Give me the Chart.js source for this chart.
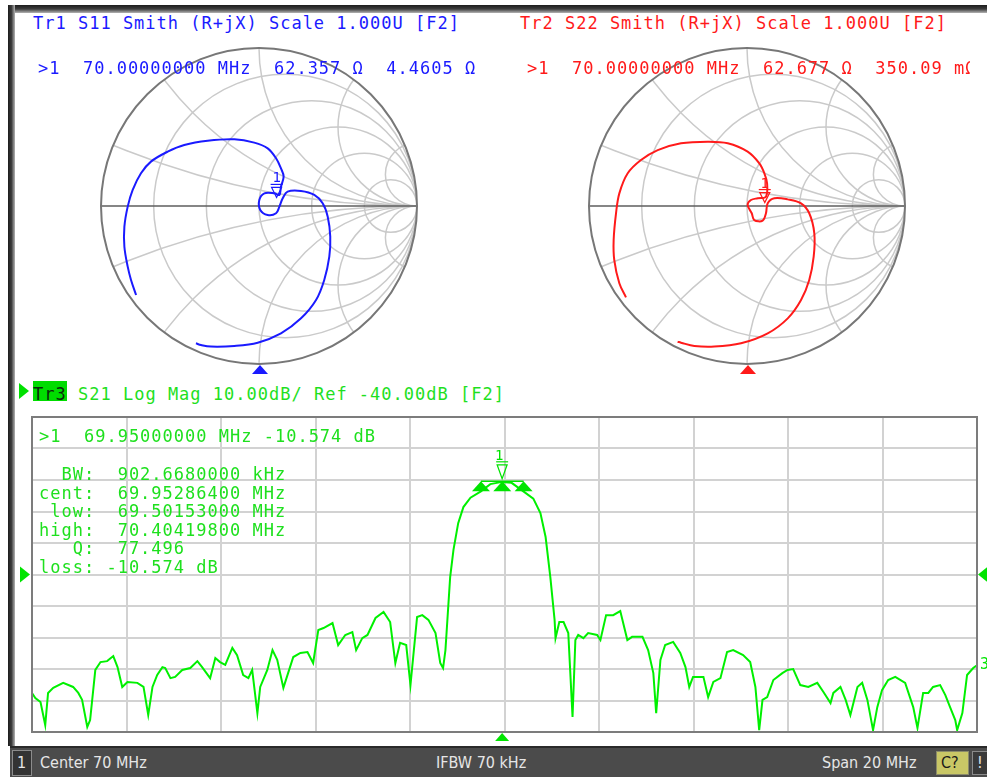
<!DOCTYPE html>
<html>
<head>
<meta charset="utf-8">
<script src="https://cdn.jsdelivr.net/npm/chart.js@4.4.1/dist/chart.umd.min.js"></script>
<style>
  body { margin: 0; width: 987px; height: 777px; background: #fff; position: relative; overflow: hidden; }
  canvas { position: absolute; }
  .t { position: absolute; font: 17px "DejaVu Sans Mono", monospace; letter-spacing: 1px; line-height: 17px; white-space: pre; z-index: 5; }
  .blue { color: #1a1aff; }
  .red { color: #ff1a1a; }
  .green { color: #1ee01e; }
  .bar { position: absolute; z-index: 6; }
  .st { position: absolute; font: 16px "DejaVu Sans Condensed", "DejaVu Sans", sans-serif; line-height: 16px; color: #e6e6e6; white-space: pre; z-index: 7; }
</style>
</head>
<body>
<div class="bar" style="left:8px;top:5px;width:979px;height:8px;background:linear-gradient(#1c1c1c,#3c3c3c 50%,#b4b4b4)"></div>
<div class="bar" style="left:8px;top:5px;width:7px;height:741px;background:linear-gradient(to right,#1c1c1c,#3c3c3c 50%,#b4b4b4)"></div>

<canvas id="smith1" width="344" height="344" style="left:87px;top:34px"></canvas>
<canvas id="smith2" width="344" height="344" style="left:575px;top:34px"></canvas>
<canvas id="s21" width="973" height="342" style="left:14px;top:404px"></canvas>

<div class="t blue" style="left:33px;top:15px">Tr1 S11 Smith (R+jX) Scale 1.000U [F2]</div>
<div class="t blue" style="left:38px;top:60px">&gt;1  70.00000000 MHz  62.357 Ω  4.4605 Ω</div>
<div class="t red" style="left:520px;top:15px">Tr2 S22 Smith (R+jX) Scale 1.000U [F2]</div>
<div class="t red" style="left:527px;top:60px;width:443px;overflow:hidden">&gt;1  70.00000000 MHz  62.677 Ω  350.09 mΩ</div>

<div style="position:absolute;left:19px;top:383px;width:0;height:0;border-top:8px solid transparent;border-bottom:8px solid transparent;border-left:10px solid #00e000;z-index:5"></div>
<div style="position:absolute;left:33px;top:381px;width:34px;height:20px;background:#00dc00;z-index:4"></div>
<div class="t" style="left:33px;top:386px;color:#0b2a0b">Tr3</div>
<div class="t green" style="left:78px;top:386px">S21 Log Mag 10.00dB/ Ref -40.00dB [F2]</div>

<div class="t green" style="left:39px;top:428px">&gt;1  69.95000000 MHz -10.574 dB</div>
<div class="t green" style="left:39px;top:465px;line-height:18.5px">  BW:  902.6680000 kHz
cent:  69.95286400 MHz
 low:  69.50153000 MHz
high:  70.40419800 MHz
   Q:  77.496
loss: -10.574 dB</div>

<div class="bar" style="left:10px;top:746px;width:977px;height:31px;background:#4b4b4b;border-top:2px solid #2a2a2a;box-sizing:border-box"></div>
<div class="bar" style="left:12px;top:750px;width:18px;height:24px;background:#333;border:1px solid #8c8c8c;z-index:7"></div>
<div class="st" style="left:17px;top:755px">1</div>
<div class="st" style="left:40px;top:755px">Center 70 MHz</div>
<div class="st" style="left:436px;top:755px">IFBW 70 kHz</div>
<div class="st" style="left:822px;top:755px">Span 20 MHz</div>
<div class="bar" style="left:936px;top:751px;width:31px;height:22px;background:#c9c766;border:1px solid #8a8a6a;z-index:7"></div>
<div class="st" style="left:941px;top:755px;color:#1a1a1a">C?</div>
<div class="bar" style="left:972px;top:751px;width:15px;height:22px;background:#3a3a3a;border:1px solid #8a8a8a;z-index:7"></div>
<div class="st" style="left:977px;top:755px">!</div>

<script>
// S21 log magnitude trace, frequency in MHz and level in dB
const s21Freq = [
  60.00, 60.07, 60.18, 60.28, 60.34, 60.45, 60.66, 60.87, 60.98, 61.06,
  61.17, 61.23, 61.34, 61.45, 61.59, 61.72, 61.81, 61.91, 62.02, 62.23,
  62.36, 62.46, 62.55, 62.65, 62.76, 62.82, 62.93, 63.03, 63.18, 63.35,
  63.50, 63.60, 63.77, 63.88, 63.98, 64.09, 64.24, 64.34, 64.47, 64.58,
  64.66, 64.77, 64.83, 64.98, 65.09, 65.19, 65.32, 65.42, 65.53, 65.68,
  65.83, 65.95, 66.06, 66.17, 66.36, 66.48, 66.63, 66.78, 66.86, 66.99,
  67.10, 67.27, 67.44, 67.58, 67.69, 67.79, 67.92, 68.01, 68.15, 68.26,
  68.39, 68.54, 68.64, 68.70, 68.75, 68.85, 68.92, 69.02, 69.13, 69.28,
  69.50, 69.70, 69.95, 70.15, 70.40, 70.61, 70.76, 70.87, 70.97, 71.06,
  71.08, 71.16, 71.25, 71.35, 71.44, 71.50, 71.56, 71.67, 71.77, 71.96,
  72.03, 72.15, 72.30, 72.45, 72.60, 72.70, 72.92, 73.04, 73.15, 73.21,
  73.30, 73.40, 73.57, 73.72, 73.83, 73.91, 73.99, 74.21, 74.31, 74.42,
  74.57, 74.71, 74.84, 75.05, 75.20, 75.31, 75.39, 75.46, 75.56, 75.69,
  75.88, 75.99, 76.11, 76.26, 76.43, 76.62, 76.75, 76.90, 76.96, 77.11,
  77.22, 77.32, 77.47, 77.57, 77.68, 77.80, 77.89, 77.99, 78.12, 78.27,
  78.48, 78.65, 78.74, 78.86, 78.97, 79.07, 79.22, 79.33, 79.43, 79.54,
  79.58, 79.69, 79.79, 79.92, 80.00
];
const s21Db = [
  -77.6, -79.2, -80.5, -87.8, -77.6, -76.0, -74.4, -75.7, -77.6, -79.8,
  -88.4, -86.2, -70.3, -67.8, -67.5, -65.9, -69.4, -75.7, -74.1, -74.4,
  -75.7, -84.6, -75.7, -71.9, -69.4, -69.7, -72.9, -72.5, -70.3, -69.7,
  -67.5, -69.4, -72.9, -66.5, -67.8, -68.7, -63.3, -65.6, -71.9, -72.9,
  -70.3, -84.0, -75.7, -70.3, -64.0, -67.1, -76.0, -71.3, -66.2, -64.9,
  -64.6, -68.1, -57.6, -57.0, -55.4, -62.4, -59.2, -58.3, -64.0, -60.2,
  -59.2, -53.8, -51.9, -55.1, -68.1, -61.7, -62.4, -75.1, -53.5, -52.9,
  -54.4, -58.6, -68.1, -69.7, -64.0, -40.8, -32.2, -23.7, -18.6, -15.6,
  -13.6, -11.3, -10.6, -10.9, -13.6, -15.9, -20.5, -28.1, -40.8, -54.4,
  -60.2, -55.1, -55.1, -58.6, -85.2, -60.8, -59.2, -60.2, -58.6, -59.2,
  -60.8, -52.9, -52.9, -51.6, -60.8, -59.8, -59.8, -64.0, -71.3, -84.0,
  -67.1, -62.4, -61.4, -64.9, -69.4, -75.7, -72.5, -72.5, -78.9, -74.1,
  -72.9, -64.6, -64.0, -65.6, -67.8, -75.7, -89.4, -79.8, -78.9, -73.5,
  -71.3, -70.3, -70.0, -75.1, -75.7, -74.4, -77.3, -80.8, -77.6, -75.7,
  -79.8, -84.6, -75.7, -74.4, -79.8, -89.4, -82.1, -76.7, -73.5, -72.5,
  -74.4, -82.1, -88.7, -77.6, -77.6, -75.7, -75.1, -78.3, -82.1, -86.2,
  -89.4, -84.0, -71.9, -69.7, -68.8
];

// S11 and S22 reflection coefficient (real, imaginary)
const s11Re = [
  -0.778, -0.810, -0.831, -0.852, -0.852, -0.831, -0.800, -0.747, -0.684, -0.578,
  -0.473, -0.325, -0.156, -0.030, 0.055, 0.108, 0.139, 0.156, 0.139, 0.129,
  0.097, 0.034, 0.002, 0.008, 0.055, 0.108, 0.129, 0.150, 0.181, 0.266,
  0.350, 0.403, 0.435, 0.451, 0.445, 0.413, 0.361, 0.266, 0.139, -0.008,
  -0.156, -0.304, -0.367, -0.399
];
const s11Im = [
  -0.563, -0.468, -0.384, -0.258, -0.131, -0.004, 0.101, 0.207, 0.281, 0.344,
  0.386, 0.413, 0.422, 0.401, 0.365, 0.302, 0.238, 0.186, 0.122, 0.070,
  0.080, 0.080, 0.038, -0.025, -0.057, -0.046, -0.004, 0.049, 0.091, 0.095,
  0.070, 0.017, -0.068, -0.194, -0.321, -0.468, -0.595, -0.711, -0.806, -0.865,
  -0.886, -0.890, -0.880, -0.869
];
const s22Re = [
  -0.766, -0.808, -0.840, -0.844, -0.829, -0.808, -0.755, -0.671, -0.565, -0.418,
  -0.249, -0.122, 0.004, 0.078, 0.110, 0.127, 0.120, 0.068, 0.025, 0.004,
  0.030, 0.046, 0.099, 0.120, 0.131, 0.173, 0.258, 0.342, 0.394, 0.426,
  0.422, 0.394, 0.342, 0.258, 0.131, -0.038, -0.207, -0.333, -0.418, -0.439
];
const s22Im = [
  -0.578, -0.489, -0.342, -0.215, -0.046, 0.080, 0.207, 0.291, 0.354, 0.397,
  0.407, 0.397, 0.344, 0.270, 0.207, 0.144, 0.059, 0.049, 0.038, 0.006,
  -0.046, -0.089, -0.093, -0.046, 0.017, 0.049, 0.042, 0.017, -0.046, -0.173,
  -0.321, -0.468, -0.595, -0.711, -0.806, -0.869, -0.890, -0.886, -0.865, -0.859
];

// marker readouts (ohms, MHz, dB)
const s11Marker = [62.357, 4.4605];
const s22Marker = [62.677, 0.35009];
const s21MarkerFreq = 69.95;
const s21MarkerDb = -10.574;
const bwFreqs = [69.50153, 69.952864, 70.404198];

const rCircles = [0.2, 0.5, 1, 2, 5];
const xArcs = [0.2, 0.5, 1, 2, 5];

function gammaOf(r, x) {
  const a = r / 50, b = x / 50;
  const den = (a + 1) * (a + 1) + b * b;
  return { re: (a * a + b * b - 1) / den, im: 2 * b / den };
}

function toPoints(xs, ys) {
  return xs.map((v, i) => ({ x: v, y: ys[i] }));
}

function smithGrid(color, marker) {
  return {
    id: 'smithGrid',
    beforeDatasetsDraw(chart) {
      const { ctx, scales: { x, y } } = chart;
      const cx = x.getPixelForValue(0), cy = y.getPixelForValue(0);
      const R = x.getPixelForValue(1) - cx;
      ctx.save();
      ctx.beginPath();
      ctx.arc(cx, cy, R, 0, Math.PI * 2);
      ctx.clip();
      ctx.strokeStyle = '#cacaca';
      ctx.lineWidth = 1.5;
      rCircles.forEach(r => {
        ctx.beginPath();
        ctx.arc(cx + R * r / (1 + r), cy, R / (1 + r), 0, Math.PI * 2);
        ctx.stroke();
      });
      xArcs.forEach(v => {
        [v, -v].forEach(xv => {
          ctx.beginPath();
          ctx.arc(cx + R, cy - R / xv, R / v, 0, Math.PI * 2);
          ctx.stroke();
        });
      });
      ctx.restore();

      ctx.save();
      ctx.strokeStyle = '#5e5e5e';
      ctx.lineWidth = 1.5;
      ctx.beginPath();
      ctx.moveTo(cx - R, cy);
      ctx.lineTo(cx + R, cy);
      ctx.stroke();
      ctx.strokeStyle = '#777';
      ctx.lineWidth = 2;
      ctx.beginPath();
      ctx.arc(cx, cy, R, 0, Math.PI * 2);
      ctx.stroke();
      ctx.restore();
    },
    afterDatasetsDraw(chart) {
      const { ctx, scales: { x, y } } = chart;
      const cx = x.getPixelForValue(0), cy = y.getPixelForValue(0);
      const R = x.getPixelForValue(1) - cx;
      const g = gammaOf(marker[0], marker[1]);
      const px = x.getPixelForValue(g.re), py = y.getPixelForValue(g.im);
      ctx.save();
      ctx.strokeStyle = color;
      ctx.fillStyle = color;
      ctx.lineWidth = 1.2;
      ctx.beginPath();
      ctx.moveTo(px, py - 3);
      ctx.lineTo(px - 5, py - 13);
      ctx.lineTo(px + 5, py - 13);
      ctx.closePath();
      ctx.stroke();
      ctx.beginPath();
      ctx.moveTo(px - 6, py - 16);
      ctx.lineTo(px + 6, py - 16);
      ctx.stroke();
      ctx.font = '14px "DejaVu Sans Mono"';
      ctx.textAlign = 'center';
      ctx.fillText('1', px, py - 18);
      // stimulus marker below the chart
      ctx.beginPath();
      ctx.moveTo(cx + 1, cy + R + 1);
      ctx.lineTo(cx - 7, cy + R + 10);
      ctx.lineTo(cx + 9, cy + R + 10);
      ctx.closePath();
      ctx.fill();
      ctx.restore();
    }
  };
}

function smithChart(id, re, im, color, marker) {
  return new Chart(document.getElementById(id), {
    type: 'scatter',
    data: {
      datasets: [{
        data: toPoints(re, im),
        showLine: true,
        borderColor: color,
        borderWidth: 2,
        pointRadius: 0,
        tension: 0.35
      }]
    },
    options: {
      responsive: false,
      animation: false,
      events: [],
      layout: { padding: 14 },
      plugins: { legend: { display: false }, tooltip: { enabled: false } },
      scales: {
        x: { type: 'linear', min: -1, max: 1, display: false },
        y: { type: 'linear', min: -1, max: 1, display: false }
      }
    },
    plugins: [smithGrid(color, marker)]
  });
}

smithChart('smith1', s11Re, s11Im, '#1a1aff', s11Marker);
smithChart('smith2', s22Re, s22Im, '#ff1a1a', s22Marker);

const green = '#00e400';

const s21Extras = {
  id: 's21Extras',
  afterDatasetsDraw(chart) {
    const { ctx, chartArea: a, scales: { x, y } } = chart;
    ctx.save();
    ctx.strokeStyle = '#7c7c7c';
    ctx.lineWidth = 2;
    ctx.strokeRect(a.left, a.top, a.right - a.left, a.bottom - a.top);

    ctx.fillStyle = green;
    ctx.strokeStyle = green;
    // reference level arrows
    const ry = y.getPixelForValue(-40);
    ctx.beginPath();
    ctx.moveTo(a.left - 12, ry - 8);
    ctx.lineTo(a.left - 2, ry);
    ctx.lineTo(a.left - 12, ry + 8);
    ctx.closePath();
    ctx.fill();
    ctx.beginPath();
    ctx.moveTo(a.right + 11, ry - 8);
    ctx.lineTo(a.right + 1, ry);
    ctx.lineTo(a.right + 11, ry + 8);
    ctx.closePath();
    ctx.fill();

    // stimulus marker at bottom
    const mx = x.getPixelForValue(s21MarkerFreq);
    ctx.beginPath();
    ctx.moveTo(mx, a.bottom + 1);
    ctx.lineTo(mx - 7, a.bottom + 9);
    ctx.lineTo(mx + 7, a.bottom + 9);
    ctx.closePath();
    ctx.fill();

    // marker 1
    const my = y.getPixelForValue(s21MarkerDb);
    ctx.lineWidth = 1.2;
    ctx.beginPath();
    ctx.moveTo(mx, my - 3);
    ctx.lineTo(mx - 5, my - 17);
    ctx.lineTo(mx + 5, my - 17);
    ctx.closePath();
    ctx.stroke();
    ctx.beginPath();
    ctx.moveTo(mx - 6, my - 20);
    ctx.lineTo(mx + 6, my - 20);
    ctx.stroke();
    ctx.font = '14px "DejaVu Sans Mono"';
    ctx.textAlign = 'center';
    ctx.fillText('1', mx - 3, my - 22);

    // bandwidth markers
    const by = y.getPixelForValue(s21MarkerDb - 3);
    const bx = bwFreqs.map(f => x.getPixelForValue(f));
    bx.forEach(px => {
      ctx.beginPath();
      ctx.moveTo(px, by - 10);
      ctx.lineTo(px - 9, by);
      ctx.lineTo(px + 9, by);
      ctx.closePath();
      ctx.fill();
    });
    ctx.lineWidth = 1.5;
    ctx.beginPath();
    ctx.moveTo(bx[0], by - 10);
    ctx.lineTo(bx[2], by - 10);
    ctx.stroke();

    // trace number at the end of the trace
    const last = s21Freq.length - 1;
    ctx.font = '15px "DejaVu Sans Mono"';
    ctx.textAlign = 'left';
    ctx.textBaseline = 'middle';
    ctx.fillText('3', x.getPixelForValue(s21Freq[last]) + 3, y.getPixelForValue(s21Db[last]));
    ctx.restore();
  }
};

const gridStyle = { color: '#d2d2d2', lineWidth: 2, drawTicks: false };

new Chart(document.getElementById('s21'), {
  type: 'scatter',
  data: {
    datasets: [{
      data: toPoints(s21Freq, s21Db),
      showLine: true,
      borderColor: '#00f000',
      borderWidth: 2,
      pointRadius: 0,
      tension: 0
    }]
  },
  options: {
    responsive: false,
    animation: false,
    events: [],
    layout: { padding: { left: 18, right: 10, top: 13, bottom: 14 } },
    plugins: { legend: { display: false }, tooltip: { enabled: false } },
    scales: {
      x: { type: 'linear', min: 60, max: 80, ticks: { display: false, stepSize: 2 }, grid: gridStyle, border: { display: false } },
      y: { type: 'linear', min: -90, max: 10, ticks: { display: false, stepSize: 10 }, grid: gridStyle, border: { display: false } }
    }
  },
  plugins: [s21Extras]
});
</script>
</body>
</html>
